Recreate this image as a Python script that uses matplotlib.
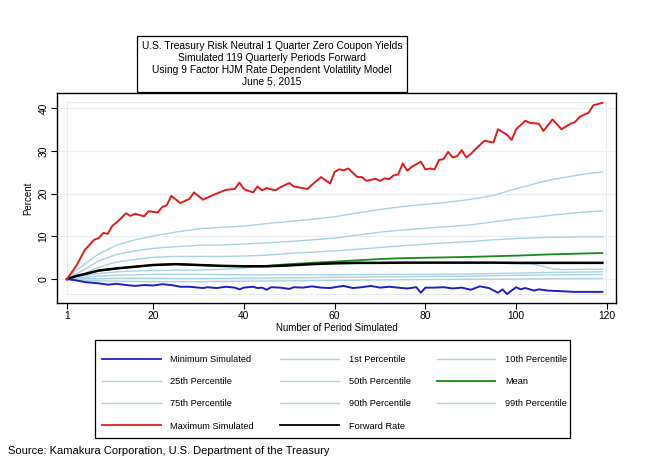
# Kamakura HJM simulation chart - percentiles of simulated 1 quarter zero yields
import matplotlib.pyplot as plt
from matplotlib.lines import Line2D
from matplotlib.patches import Rectangle

plt.rcParams['font.family'] = ['Liberation Sans', 'DejaVu Sans']

# Maximum / minimum simulated paths (period, percent)
max_periods = [1, 3, 5, 7, 8, 9, 10, 11, 12, 14, 15, 16, 18, 19, 21, 22, 23, 24, 26, 28, 29, 31, 33,
               36, 38, 39, 40, 42, 43, 44, 45, 47, 48, 50, 51, 54, 55, 57, 59, 60, 61, 62, 63, 64,
               65, 66, 67, 69, 70, 71, 72, 73, 74, 75, 76, 77, 79, 80, 81, 82, 83, 84, 85, 86, 87,
               88, 89, 90, 91, 93, 94, 95, 96, 98, 99, 100, 102, 103, 105, 106, 108, 110, 112,
               113, 114, 116, 117, 119]
max_values = [0.0, 3.0, 6.9, 9.2, 9.6, 10.8, 10.6, 12.5, 13.3, 15.4, 14.8, 15.3, 14.7, 15.9, 15.6,
              16.9, 17.3, 19.5, 17.8, 18.8, 20.3, 18.6, 19.6, 20.9, 21.1, 22.6, 21.1, 20.3, 21.7,
              20.8, 21.3, 20.8, 21.5, 22.5, 21.7, 21.1, 22.1, 23.9, 22.4, 25.1, 25.7, 25.5, 25.9,
              24.9, 23.9, 23.9, 23.0, 23.5, 23.0, 23.6, 23.4, 24.3, 24.5, 27.1, 25.4, 26.3, 27.5,
              25.7, 25.9, 25.7, 27.9, 28.1, 29.8, 28.5, 28.8, 30.2, 28.5, 29.3, 30.4, 32.4, 32.2,
              32.0, 35.1, 33.8, 32.6, 35.1, 37.1, 36.6, 36.4, 34.7, 37.4, 35.1, 36.4, 36.8, 38.0,
              39.0, 40.7, 41.3]

min_periods = [1, 3, 5, 8, 10, 12, 14, 16, 18, 20, 22, 24, 26, 28, 29, 31, 32, 34, 36, 38, 39, 40,
               42, 43, 44, 45, 46, 48, 50, 51, 53, 55, 57, 59, 60, 62, 64, 66, 68, 70, 72, 74, 76,
               78, 79, 80, 82, 84, 86, 88, 90, 92, 94, 96, 97, 98, 100, 101, 102, 104, 105, 107,
               109, 111, 113, 116, 119]
min_values = [0.0, -0.3, -0.7, -1.0, -1.3, -1.1, -1.4, -1.6, -1.4, -1.5, -1.2, -1.4, -1.8, -1.8,
              -1.9, -2.1, -1.9, -2.1, -1.8, -2.0, -2.4, -2.0, -1.8, -2.1, -2.0, -2.5, -1.9, -2.0,
              -2.3, -1.9, -2.0, -1.7, -2.0, -2.1, -1.9, -1.6, -2.1, -1.9, -1.6, -2.0, -1.8, -2.0,
              -2.2, -1.9, -3.2, -2.0, -2.0, -1.9, -2.2, -2.0, -2.5, -1.7, -2.1, -3.2, -2.4, -3.5,
              -1.9, -2.4, -2.1, -2.7, -2.4, -2.7, -2.8, -2.9, -3.0, -3.0, -3.0]

# Smooth series read at common periods
periods = [1, 3, 5, 8, 12, 16, 20, 25, 30, 35, 40, 45, 50, 55, 60, 65, 70, 75, 80, 85, 90, 95,
           100, 103, 105, 108, 110, 115, 119]
p99 = [0.0, 2.0, 3.6, 5.9, 8.0, 9.2, 10.1, 11.0, 11.8, 12.1, 12.4, 13.0, 13.5, 14.0, 14.6, 15.5,
       16.3, 17.0, 17.5, 18.0, 18.7, 19.6, 21.2, 22.0, 22.6, 23.3, 23.7, 24.6, 25.1]
p90 = [0.0, 1.2, 2.3, 4.3, 5.8, 6.6, 7.2, 7.6, 7.9, 8.0, 8.2, 8.5, 8.8, 9.2, 9.6, 10.3, 11.0,
       11.5, 11.9, 12.3, 12.7, 13.4, 14.1, 14.4, 14.6, 15.0, 15.2, 15.7, 16.0]
p75 = [0.0, 0.7, 1.4, 2.8, 4.0, 4.6, 5.1, 5.3, 5.3, 5.3, 5.4, 5.6, 6.0, 6.3, 6.6, 7.0, 7.4, 7.8,
       8.2, 8.5, 8.8, 9.2, 9.5, 9.6, 9.7, 9.8, 9.8, 9.9, 9.9]
p50 = [0.0, 0.4, 0.8, 1.3, 1.7, 1.9, 2.0, 2.1, 2.1, 2.3, 2.6, 2.9, 3.2, 3.45, 3.6, 3.65, 3.7, 3.7,
       3.7, 3.7, 3.7, 3.7, 3.65, 3.6, 3.2, 2.4, 2.2, 2.3, 2.3]
p25 = [0.0, 0.2, 0.4, 0.7, 0.9, 1.0, 1.1, 1.1, 1.1, 1.05, 1.0, 1.0, 1.0, 1.0, 1.0, 1.05, 1.1, 1.1,
       1.1, 1.15, 1.2, 1.3, 1.4, 1.45, 1.5, 1.55, 1.6, 1.65, 1.7]
p10 = [0.0, 0.0, 0.1, 0.1, 0.2, 0.2, 0.2, 0.15, 0.15, 0.15, 0.2, 0.25, 0.3, 0.35, 0.4, 0.45, 0.5,
       0.55, 0.6, 0.65, 0.7, 0.8, 0.9, 0.9, 0.95, 1.0, 1.0, 1.05, 1.1]
p01 = [0.0, -0.15, -0.25, -0.4, -0.5, -0.55, -0.6, -0.6, -0.6, -0.55, -0.5, -0.45, -0.4, -0.35,
       -0.3, -0.25, -0.2, -0.15, -0.1, -0.08, -0.05, -0.02, 0.0, 0.03, 0.05, 0.08, 0.1, 0.12, 0.15]
mean_rate = [0.0, 0.7, 1.2, 2.0, 2.5, 2.9, 3.3, 3.5, 3.3, 3.1, 3.0, 3.1, 3.5, 3.8, 4.1, 4.4, 4.7,
             4.9, 5.0, 5.1, 5.2, 5.35, 5.5, 5.6, 5.7, 5.8, 5.85, 6.0, 6.1]
forward_rate = [0.0, 0.7, 1.2, 2.0, 2.5, 2.9, 3.3, 3.5, 3.3, 3.1, 3.0, 3.0, 3.2, 3.5, 3.7, 3.8,
                3.8, 3.85, 3.85, 3.85, 3.85, 3.85, 3.8, 3.8, 3.8, 3.8, 3.8, 3.8, 3.8]

x_ticks = [1, 20, 40, 60, 80, 100, 120]
y_ticks = [0, 10, 20, 30, 40]

title_lines = ['U.S. Treasury Risk Neutral 1 Quarter Zero Coupon Yields',
               'Simulated 119 Quarterly Periods Forward',
               'Using 9 Factor HJM Rate Dependent Volatility Model',
               'June 5, 2015']

RED = '#e41a1c'
BLUE = '#1f1fc8'
GREEN = '#178a17'
LIGHT = '#a9d2e3'

fig = plt.figure(figsize=(6.46, 4.63), dpi=100)
ax = fig.add_axes([0.0882, 0.3456, 0.8653, 0.4536])

ax.yaxis.grid(True, color='#e9eff2', lw=0.9)
ax.set_axisbelow(True)
ax.add_patch(Rectangle((0.018, 0.043), 0.964, 0.914, transform=ax.transAxes,
                       fill=False, ec='#e4ecef', lw=0.8, zorder=0))

# percentile fan
for vals in [p01, p10, p25, p50, p75, p90, p99]:
    ax.plot(periods, vals, color=LIGHT, lw=1.0)
ax.plot(periods, mean_rate, color=GREEN, lw=1.3)
ax.plot(periods, forward_rate, color='black', lw=1.8)
ax.plot(min_periods, min_values, color=BLUE, lw=1.4)
ax.plot(max_periods, max_values, color=RED, lw=1.4)

ax.set_xlim(-1.2, 122)
ax.set_ylim(-5.6, 43.6)
ax.set_xticks(x_ticks)
ax.set_yticks(y_ticks)
ax.tick_params(labelsize=7.4, length=4, width=0.8, pad=2)
plt.setp(ax.get_yticklabels(), rotation=90, va='center')
for s in ax.spines.values():
    s.set_linewidth(1.0)
ax.set_xlabel('Number of Period Simulated', fontsize=7, labelpad=1)
ax.set_ylabel('Percent', fontsize=7, labelpad=4)

fig.text(0.421, 0.862, '\n'.join(title_lines), ha='center', va='center', fontsize=7.4,
         linespacing=1.25,
         bbox=dict(boxstyle='square,pad=0.45', fc='white', ec='black', lw=0.9))

# legend laid out row by row like the original (matplotlib fills columns)
def h(c, lw=1.3):
    return Line2D([], [], color=c, lw=lw)

handles = [h(BLUE), h(LIGHT, 1.0), h(LIGHT, 1.0), h(RED),
           h(LIGHT, 1.0), h(LIGHT, 1.0), h(LIGHT, 1.0), h('black'),
           h(LIGHT, 1.0), h(GREEN), h(LIGHT, 1.0)]
labels = ['Minimum Simulated', '25th Percentile', '75th Percentile', 'Maximum Simulated',
          '1st Percentile', '50th Percentile', '90th Percentile', 'Forward Rate',
          '10th Percentile', 'Mean', '99th Percentile']
# legend box drawn separately so the inner padding can differ left/top
fig.patches.append(Rectangle((0.1471, 0.054), 0.7353, 0.2117, transform=fig.transFigure,
                             fill=False, ec='black', lw=0.9))
leg = fig.legend(handles, labels, ncol=3, loc='upper left', bbox_to_anchor=(0.158, 0.2332),
                 borderaxespad=0, borderpad=0, fontsize=6.7, handlelength=6.3,
                 handletextpad=1.05, columnspacing=2.8, labelspacing=1.42, frameon=False)

fig.text(0.012, 0.026, 'Source: Kamakura Corporation, U.S. Department of the Treasury',
         fontsize=8, ha='left', va='center')

fig.savefig('out.png', dpi=100)
